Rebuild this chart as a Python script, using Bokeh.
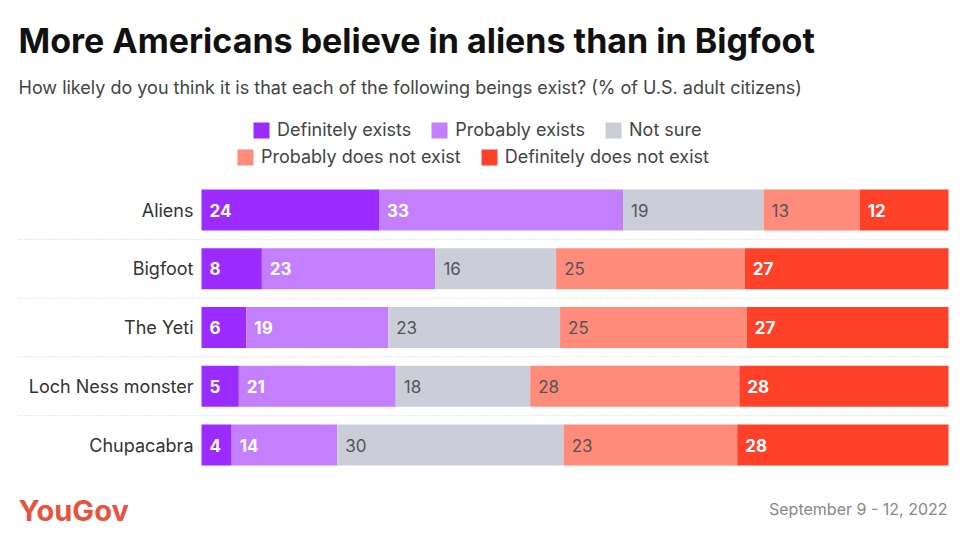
import numpy as np
from bokeh.plotting import figure
from bokeh.models import Range1d, Label, Legend, LegendItem, ColumnDataSource
from bokeh.core.properties import value
from bokeh.embed import file_html
from bokeh.resources import INLINE

# ---- data ----
categories = ["Aliens", "Bigfoot", "The Yeti", "Loch Ness monster", "Chupacabra"]
definitely_exists = [24, 8, 6, 5, 4]
probably_exists = [33, 23, 19, 21, 14]
not_sure = [19, 16, 23, 18, 30]
probably_not = [13, 25, 25, 28, 23]
definitely_not = [12, 27, 27, 28, 28]
series_names = ["Definitely exists", "Probably exists", "Not sure",
                "Probably does not exist", "Definitely does not exist"]

title = "More Americans believe in aliens than in Bigfoot"
subtitle = "How likely do you think it is that each of the following beings exist? (% of U.S. adult citizens)"
date_text = "September 9 - 12, 2022"
brand = "YouGov"

# ---- style ----
colors = ["#9B2BFF", "#C47FFF", "#CBCED8", "#FF8B7B", "#FF4129"]
label_colors = ["#FFFFFF", "#FFFFFF", "#555555", "#555555", "#FFFFFF"]
label_styles = ["bold", "bold", "normal", "normal", "bold"]
FONT = "Inter"

W, H = 974, 534
BAR_LEFT, BAR_RIGHT = 201, 948
UNIT = (BAR_RIGHT - BAR_LEFT) / 100.0
ROW0, ROW_STEP = 209.5, 58.75

def X(px):
    return (px - BAR_LEFT) / UNIT

def Y(py):
    return (py - ROW0) / ROW_STEP

p = figure(width=W, height=H, output_backend="svg", toolbar_location=None,
           x_range=Range1d(X(0), X(W)), y_range=Range1d(Y(H), Y(0)),
           x_axis_location=None, y_axis_location=None, min_border=0)
p.grid.visible = False
p.outline_line_color = None
p.background_fill_color = "white"
p.border_fill_color = "white"

series = [definitely_exists, probably_exists, not_sure, probably_not, definitely_not]
vals = np.array(series, dtype=float)
totals = vals.sum(axis=0)
norm = vals / totals * 100.0
cum = np.cumsum(norm, axis=0)
ypos = list(range(len(categories)))

renderers = []
for i, name in enumerate(series_names):
    left = cum[i] - norm[i]
    right = cum[i]
    src = ColumnDataSource(dict(y=ypos, left=left, right=right,
                                lab=[str(v) for v in series[i]]))
    r = p.hbar(y="y", left="left", right="right", height=0.7, source=src,
               fill_color=colors[i], line_color=None)
    renderers.append(r)
    p.text(x="left", y="y", text="lab", source=src, x_offset=8,
           text_baseline="middle", text_align="left",
           text_font=value(FONT), text_font_size="17px",
           text_font_style=label_styles[i], text_color=label_colors[i])

# separators between rows
seps = [i + 0.5 for i in range(len(categories) - 1)]
p.segment(x0=[X(18)] * len(seps), x1=[X(948)] * len(seps), y0=seps, y1=seps,
          line_color="#cfcfcf", line_width=1, line_dash="1 2")

# category labels
p.text(x=[0] * len(categories), y=ypos, text=categories, x_offset=-8,
       text_align="right", text_baseline="middle",
       text_font=value(FONT), text_font_size="18px", text_color="#333333")

# titles
p.add_layout(Label(x=X(18), y=Y(40), text=title, text_font=FONT,
                   text_font_size="34px", text_font_style="bold",
                   text_color="#111111", text_baseline="alphabetic"))
p.add_layout(Label(x=X(18), y=Y(87), text=subtitle, text_font=FONT,
                   text_font_size="18px", text_color="#444444",
                   text_baseline="alphabetic"))
p.add_layout(Label(x=X(18), y=Y(510), text=brand, text_font=FONT,
                   text_font_size="29px", text_font_style="bold",
                   text_color="#E8523F", text_baseline="alphabetic"))
p.add_layout(Label(x=X(947), y=Y(508), text=date_text, text_font=FONT,
                   text_font_size="16px", text_color="#888888",
                   text_align="right", text_baseline="alphabetic"))

# legends
def make_legend(idx, loc):
    lg = Legend(items=[LegendItem(label=series_names[i], renderers=[renderers[i]]) for i in idx],
                orientation="horizontal", location=loc,
                glyph_width=20, glyph_height=20, label_standoff=6, spacing=18,
                padding=0, margin=0, border_line_color=None,
                background_fill_alpha=0, label_text_font=FONT,
                label_text_font_size="18px", label_text_color="#444444",
                label_height=20)
    p.add_layout(lg, "center")

make_legend([0, 1, 2], (251, H - 140))
make_legend([3, 4], (235, H - 167))

open("out.html", "w").write(file_html(p, INLINE))
